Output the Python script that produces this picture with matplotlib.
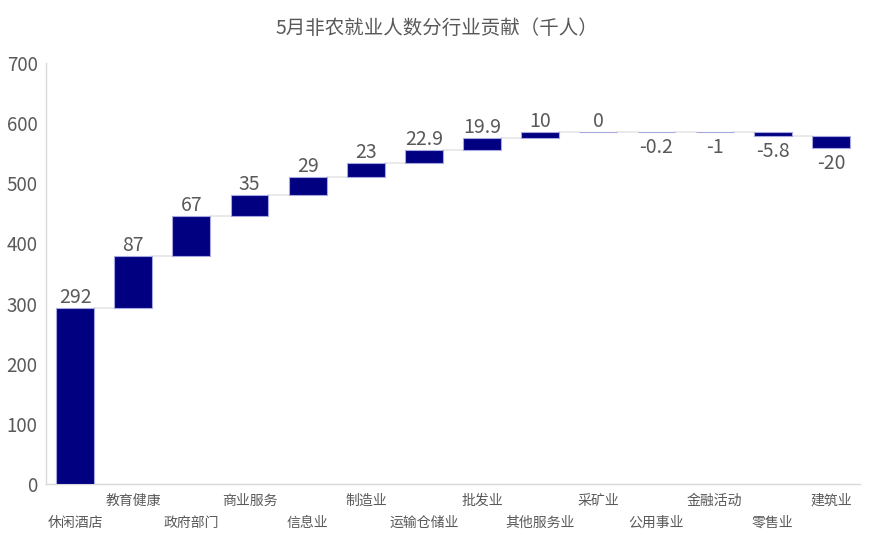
import numpy as np
import matplotlib
matplotlib.use("Agg")
import matplotlib.pyplot as plt

plt.rcParams["font.family"] = ["Noto Sans CJK SC", "DejaVu Sans"]

categories = ["休闲酒店", "教育健康", "政府部门", "商业服务", "信息业", "制造业", "运输仓储业",
              "批发业", "其他服务业", "采矿业", "公用事业", "金融活动", "零售业", "建筑业"]
values = [292, 87, 67, 35, 29, 23, 22.9, 19.9, 10, 0, -0.2, -1, -5.8, -20]
labels = ["292", "87", "67", "35", "29", "23", "22.9", "19.9", "10", "0", "-0.2", "-1", "-5.8", "-20"]
yticks = [0, 100, 200, 300, 400, 500, 600, 700]

vals = np.array(values, dtype=float)
ends = np.cumsum(vals)
starts = ends - vals
x = np.arange(len(vals))

fig = plt.figure(figsize=(8.74, 5.38), dpi=100)
ax = fig.add_axes([0.0526, 0.1004, 0.9314, 0.7826])

bar_w = 0.65
ax.bar(x, vals, bottom=starts, width=bar_w, color="#000080",
       edgecolor="#a8a8e0", linewidth=0.8, zorder=3)

# connectors between bars
for i in range(len(vals) - 1):
    ax.plot([x[i] + bar_w / 2, x[i + 1] - bar_w / 2], [ends[i], ends[i]],
            color="#e6e6e6", lw=1.2, zorder=2)

txt_color = "#595959"
for i, v in enumerate(vals):
    if v >= 0:
        ax.annotate(labels[i], (x[i], ends[i]), xytext=(0, 0), textcoords="offset points",
                    ha="center", va="bottom", fontsize=14, color=txt_color)
    else:
        ax.annotate(labels[i], (x[i], ends[i]), xytext=(0, -3.5), textcoords="offset points",
                    ha="center", va="top", fontsize=14, color=txt_color)

ax.set_xlim(-0.5, len(vals) - 0.5)
ax.set_ylim(0, 700)
ax.set_yticks(yticks)
ax.tick_params(axis="y", length=0, labelsize=13.5, labelcolor=txt_color, pad=6)
ax.set_xticks(x)
ax.set_xticklabels([])
ax.tick_params(axis="x", length=0)

# staggered category labels
for i, c in enumerate(categories):
    off = -23 if i % 2 == 0 else -7
    ax.annotate(c, (x[i], 0), xytext=(0, off), textcoords="offset points",
                ha="center", va="top", fontsize=10, color=txt_color,
                annotation_clip=False)

for s in ["top", "right"]:
    ax.spines[s].set_visible(False)
for s in ["left", "bottom"]:
    ax.spines[s].set_color("#d9d9d9")
    ax.spines[s].set_linewidth(1.0)

fig.text(0.5, 0.948, "5月非农就业人数分行业贡献（千人）", ha="center", va="center",
         fontsize=14, color=txt_color)

fig.savefig("out.png", dpi=100)
